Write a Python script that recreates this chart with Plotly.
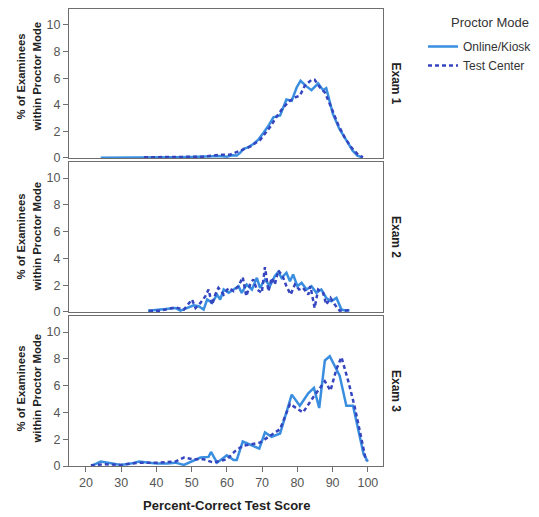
import plotly.graph_objects as go

# ---------- data ----------
e1_online_x = [24.2, 30, 36.5, 45, 50, 55, 58, 60, 61.5, 62.8, 63.8, 64.7, 66, 67.5, 69, 70.4, 72, 73.2, 75.1, 76.9, 78.4, 79.8, 80.9, 82.5, 84.0, 85.9, 87.3, 88.2, 90.1, 91.9, 93.9, 95.7, 97.1, 98.6]
e1_online_y = [0.02, 0.02, 0.02, 0.05, 0.08, 0.1, 0.15, 0.1, 0.2, 0.18, 0.4, 0.68, 0.8, 1.05, 1.4, 1.9, 2.5, 3.05, 3.2, 4.4, 4.3, 5.3, 5.8, 5.4, 5.1, 5.6, 5.1, 5.25, 3.3, 2.2, 1.3, 0.55, 0.15, 0.05]
e1_center_x = [36.5, 45.9, 53.4, 58.1, 60.9, 63.8, 66.6, 69.4, 72.2, 74.1, 76.0, 77.9, 79.3, 80.7, 82.1, 84.0, 84.9, 86.4, 87.8, 89.6, 91.5, 93.4, 95.3, 97.2, 98.6]
e1_center_y = [0.05, 0.1, 0.1, 0.25, 0.25, 0.55, 0.85, 1.35, 2.3, 3.1, 3.8, 4.3, 4.55, 4.68, 5.43, 5.88, 5.88, 5.3, 4.93, 3.8, 2.55, 1.55, 0.8, 0.25, 0.05]

e2_online_x = [37.6, 40.2, 43.1, 45.4, 46.8, 48.7, 50.6, 52.0, 53.4, 54.4, 55.8, 57.2, 58.1, 59.1, 60.5, 61.9, 63.3, 64.2, 65.6, 67.1, 68.5, 69.4, 70.8, 72.2, 73.6, 74.6, 75.5, 76.9, 77.9, 78.8, 80.0, 81.2, 82.6, 84.0, 85.4, 86.8, 88.2, 89.6, 91.1, 92.5, 93.9, 94.8]
e2_online_y = [0.1, 0.18, 0.22, 0.3, 0.1, 0.3, 0.5, 0.43, 0.18, 0.93, 0.68, 1.3, 0.93, 1.68, 1.43, 1.68, 1.93, 1.43, 2.05, 1.68, 2.55, 1.8, 2.43, 1.93, 2.68, 3.0, 2.55, 2.93, 2.3, 2.8, 1.93, 2.18, 1.68, 1.93, 1.43, 1.68, 1.05, 0.8, 1.05, 0.18, 0.1, 0.15]
e2_center_x = [37.9, 41.2, 45.4, 47.8, 50.1, 51.1, 52.5, 53.9, 54.8, 55.8, 56.7, 57.6, 59.1, 60.5, 61.9, 63.3, 64.5, 65.5, 66.6, 67.5, 68.5, 69.9, 70.8, 71.8, 72.7, 73.6, 74.6, 75.8, 76.9, 78.1, 79.3, 80.5, 81.6, 83.1, 83.7, 84.9, 85.9, 87.3, 88.2, 89.4, 90.6, 92.0, 94.8]
e2_center_y = [0.1, 0.1, 0.35, 0.18, 0.93, 0.3, 0.68, 1.18, 1.68, 0.55, 1.3, 1.8, 1.3, 1.8, 1.55, 1.93, 2.6, 1.18, 2.05, 2.43, 1.68, 1.43, 3.35, 1.55, 2.55, 2.05, 3.1, 2.68, 1.93, 1.3, 2.05, 1.68, 1.8, 1.3, 1.93, 0.3, 1.68, 1.43, 0.55, 1.05, 0.55, 0.1, 0.13]

e3_online_x = [21.9, 24.2, 27.1, 29.9, 32.7, 35.1, 37.9, 40.2, 43.1, 45.4, 47.8, 50.6, 52.5, 54.8, 55.5, 57.2, 60.0, 61.9, 62.8, 64.5, 67.1, 69.2, 70.8, 72.7, 75.1, 78.4, 80.7, 83.1, 84.7, 86.2, 87.8, 89.2, 92.0, 93.9, 95.8, 98.8, 100.0]
e3_online_y = [0.05, 0.33, 0.2, 0.08, 0.18, 0.33, 0.25, 0.18, 0.18, 0.25, 0.08, 0.38, 0.63, 0.68, 1.05, 0.25, 0.8, 0.45, 0.45, 1.83, 1.55, 1.3, 2.5, 2.18, 2.43, 5.33, 4.5, 5.43, 5.83, 4.33, 7.88, 8.2, 6.75, 4.5, 4.5, 0.88, 0.33]
e3_center_x = [21.4, 25.2, 29.9, 35.1, 40.2, 45.4, 47.8, 50.6, 53.4, 56.2, 60.0, 62.4, 64.5, 67.1, 69.4, 72.2, 75.1, 77.9, 81.6, 84.5, 87.8, 89.4, 91.1, 92.5, 94.4, 96.2, 98.1, 99.5]
e3_center_y = [0.05, 0.13, 0.08, 0.25, 0.25, 0.33, 0.63, 0.5, 0.5, 0.25, 0.5, 1.13, 1.5, 1.63, 1.75, 2.25, 2.75, 4.63, 4.0, 5.13, 6.33, 5.63, 7.25, 8.13, 6.38, 4.5, 2.0, 0.38]

exam_labels = ["Exam 1", "Exam 2", "Exam 3"]
series_names = ["Online/Kiosk", "Test Center"]
y_title_lines = ["% of Examinees", "within Proctor Mode"]
x_title = "Percent-Correct Test Score"
legend_title = "Proctor Mode"
x_ticks = [20, 30, 40, 50, 60, 70, 80, 90, 100]
y_ticks = [0, 2, 4, 6, 8, 10]

# ---------- styling ----------
C_ONLINE = "#3a8ee0"
C_CENTER = "#3545c0"
FONT = "Liberation Sans, Arial, sans-serif"
AXIS_COL = "#6e6e6e"
TXT = "#222"

data = [
    (e1_online_x, e1_online_y, e1_center_x, e1_center_y),
    (e2_online_x, e2_online_y, e2_center_x, e2_center_y),
    (e3_online_x, e3_online_y, e3_center_x, e3_center_y),
]

# page body adds an 8px offset, so the figure is 8px smaller than the window
W, H = 531, 509
ML, MR, MT, MB = 61, 156, 1, 51
PW, PH = W - ML - MR, H - MT - MB

def px_to_paper_x(px):
    return (px - ML) / PW

def py_to_paper_y(py):
    return (H - MB - py) / PH

fig = go.Figure()
domains = [[0.674, 1.0], [0.337, 0.6652], [0.0, 0.3282]]

for i, (ox, oy, cx, cy) in enumerate(data):
    n = i + 1
    xa = "x" if n == 1 else f"x{n}"
    ya = "y" if n == 1 else f"y{n}"
    fig.add_trace(go.Scatter(x=ox, y=oy, mode="lines", name=series_names[0],
                             line=dict(color=C_ONLINE, width=2.5),
                             xaxis=xa, yaxis=ya, showlegend=(i == 0),
                             legendgroup="o"))
    fig.add_trace(go.Scatter(x=cx, y=cy, mode="lines", name=series_names[1],
                             line=dict(color=C_CENTER, width=2.5, dash="4px,3px"),
                             xaxis=xa, yaxis=ya, showlegend=(i == 0),
                             legendgroup="c"))

layout = dict(
    width=W, height=H,
    margin=dict(l=ML, r=MR, t=MT, b=MB, autoexpand=False),
    paper_bgcolor="white", plot_bgcolor="white",
    font=dict(family=FONT, size=12, color="#333"),
    showlegend=True,
    legend=dict(x=px_to_paper_x(415), y=py_to_paper_y(24), xanchor="left", yanchor="top",
                font=dict(size=12, color="#333"), itemwidth=30,
                tracegroupgap=0, bgcolor="rgba(0,0,0,0)"),
)

for i in range(3):
    n = i + 1
    xk = "xaxis" if n == 1 else f"xaxis{n}"
    yk = "yaxis" if n == 1 else f"yaxis{n}"
    xa_anchor = "y" if n == 1 else f"y{n}"
    ya_anchor = "x" if n == 1 else f"x{n}"
    layout[xk] = dict(domain=[0, 1], range=[15.2, 104.3], anchor=xa_anchor,
                      tickvals=x_ticks, showticklabels=(n == 3),
                      ticks="outside" if n == 3 else "", ticklen=5, tickcolor=AXIS_COL,
                      showline=True, mirror=True, linecolor=AXIS_COL, linewidth=1,
                      showgrid=False, zeroline=False,
                      tickfont=dict(size=12.5, color="#555"))
    if n != 1:
        layout[xk]["matches"] = "x"
    layout[yk] = dict(domain=domains[i], range=[0, 11.2], anchor=ya_anchor,
                      tickvals=y_ticks, ticks="outside", ticklen=5, tickcolor=AXIS_COL,
                      showline=True, mirror=True, linecolor=AXIS_COL, linewidth=1,
                      showgrid=False, zeroline=False,
                      tickfont=dict(size=12.5, color="#555"))

annotations = []
ytitle_centers = [69, 229, 381]
for i in range(3):
    d = domains[i]
    mid = (d[0] + d[1]) / 2
    annotations.append(dict(text=f"<b>{exam_labels[i]}</b>", x=px_to_paper_x(388), y=mid,
                            xref="paper", yref="paper", showarrow=False,
                            textangle=90, font=dict(size=12, color=TXT),
                            xanchor="center", yanchor="middle"))
    for line_txt, cx in zip(y_title_lines, [12.5, 28.5]):
        annotations.append(dict(text=f"<b>{line_txt}</b>",
                                x=px_to_paper_x(cx), y=py_to_paper_y(ytitle_centers[i]),
                                xref="paper", yref="paper",
                                showarrow=False, textangle=-90,
                                font=dict(size=11.3, color=TXT),
                                xanchor="center", yanchor="middle"))
annotations.append(dict(text=f"<b>{x_title}</b>", x=0.5, y=py_to_paper_y(497),
                        xref="paper", yref="paper", showarrow=False,
                        font=dict(size=13, color=TXT),
                        xanchor="center", yanchor="middle"))
annotations.append(dict(text=legend_title, x=px_to_paper_x(482), y=py_to_paper_y(14),
                        xref="paper", yref="paper", showarrow=False,
                        font=dict(size=13, color="#333"),
                        xanchor="center", yanchor="middle"))
layout["annotations"] = annotations

fig.update_layout(**layout)
fig.write_html("out.html")
